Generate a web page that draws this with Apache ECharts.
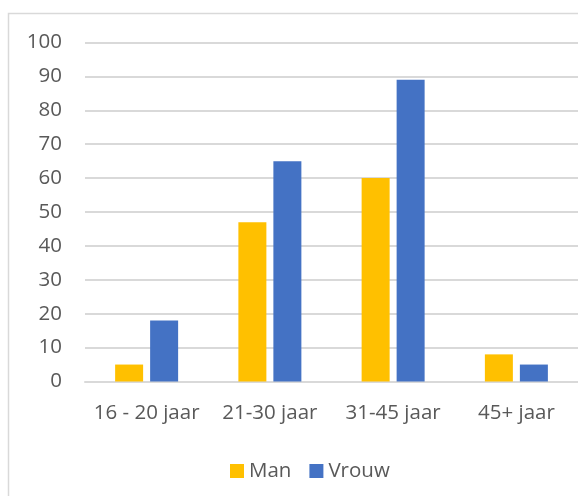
<!DOCTYPE html>
<html>
<head>
<meta charset="utf-8">
<script src="https://cdn.jsdelivr.net/npm/echarts@6/dist/echarts.min.js"></script>
<style>
  html, body { margin: 0; padding: 0; background: #fff; }
  #chart { width: 578px; height: 496px; }
</style>
</head>
<body>
<div id="chart"></div>
<script>
const categories = ['16 - 20 jaar', '21-30 jaar', '31-45 jaar', '45+ jaar']
const man = [5, 47, 60, 8]
const vrouw = [18, 65, 89, 5]

const font = 'Open Sans'
const textColor = '#595959'
const gridColor = '#d9d9d9'
const fs = 20.5

const chart = echarts.init(document.getElementById('chart'), null, { renderer: 'canvas' })

chart.setOption({
  animation: false,
  textStyle: { fontFamily: font },
  graphic: [{
    type: 'rect',
    shape: { x: 8.5, y: 13.5, width: 700, height: 600 },
    style: { fill: 'none', stroke: gridColor, lineWidth: 1.5 },
    silent: true
  }],
  grid: { left: 85, right: 0, top: 42.5, bottom: 114.5 },
  legend: {
    left: 225,
    top: 455.5,
    itemWidth: 14,
    itemHeight: 14,
    itemGap: 18,
    icon: 'rect',
    textStyle: { color: textColor, fontSize: fs, fontFamily: font },
    data: ['Man', 'Vrouw']
  },
  xAxis: {
    type: 'category',
    data: categories,
    axisLine: { lineStyle: { color: gridColor, width: 2 } },
    axisTick: { show: false },
    axisLabel: { color: textColor, fontSize: fs, margin: 21, interval: 0, fontFamily: font }
  },
  yAxis: {
    type: 'value',
    min: 0,
    max: 100,
    interval: 10,
    axisLine: { show: false },
    axisTick: { show: false },
    splitLine: { lineStyle: { color: gridColor, width: 2 } },
    axisLabel: { color: textColor, fontSize: fs, margin: 23, fontFamily: font }
  },
  series: [
    { name: 'Man', type: 'bar', data: man, barWidth: 28, barGap: '25%', itemStyle: { color: '#FFC000' } },
    { name: 'Vrouw', type: 'bar', data: vrouw, barWidth: 28, itemStyle: { color: '#4472C4' } }
  ]
})
</script>
</body>
</html>
